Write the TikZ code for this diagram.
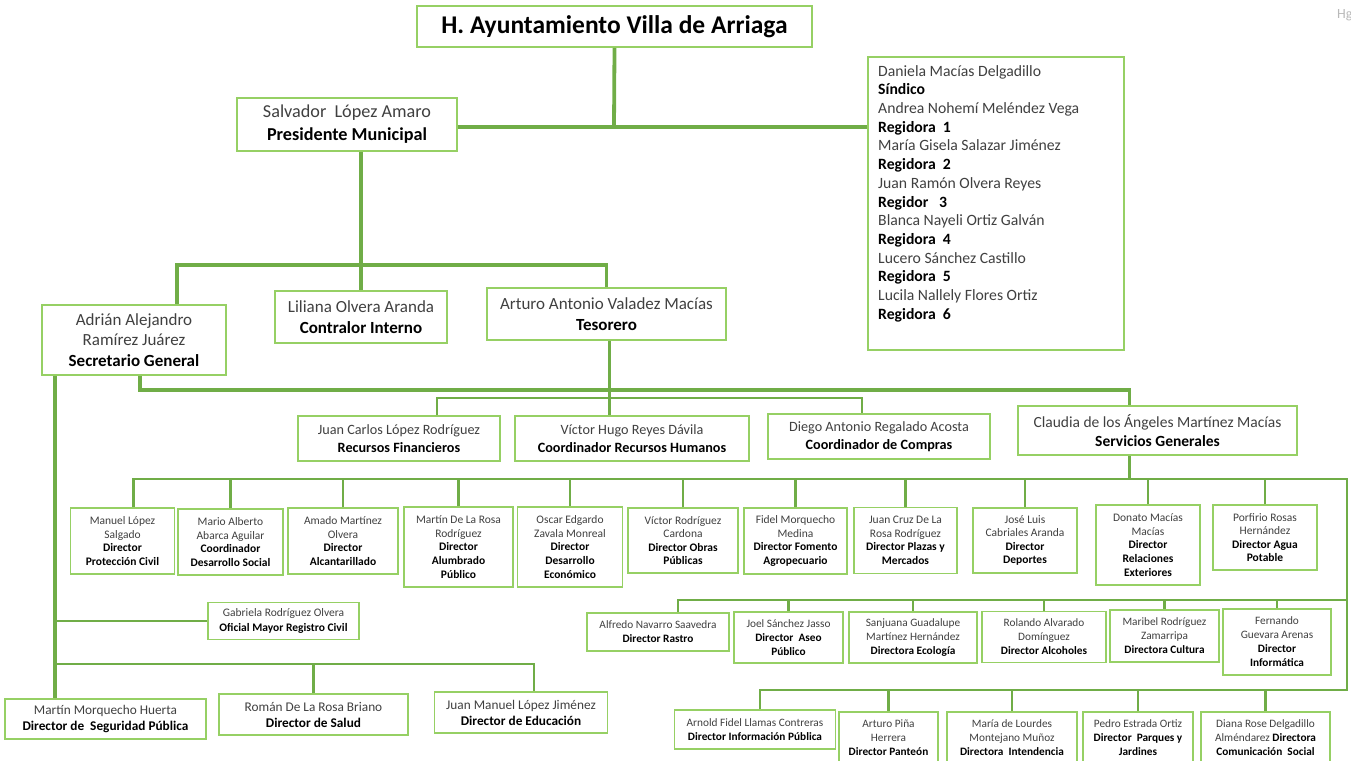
\documentclass[tikz,border=0pt]{standalone}
\usepackage{fontspec}
\setmainfont{Carlito}
\definecolor{linegreen}{RGB}{112,173,71}
\definecolor{boxgreen}{RGB}{150,208,100}
\definecolor{namegray}{RGB}{64,64,64}
\newcommand{\cargo}[1]{\textcolor{black}{\textbf{#1}}}
\tikzset{
  box/.style={draw=boxgreen, line width=1.6pt, fill=white, align=center, text=namegray, inner sep=1pt},
  link/.style={draw=linegreen, line width=3.8pt},
  sublink/.style={draw=linegreen, line width=2.5pt},
  big/.style={font=\fontsize{17}{20.5}\selectfont},
  mid/.style={font=\fontsize{14.2}{18}\selectfont},
  small/.style={font=\fontsize{11.5}{13.6}\selectfont},
  tiny/.style={font=\fontsize{11.3}{14}\selectfont}
}
\begin{document}
\begin{tikzpicture}[x=1pt,y=-1pt]
\useasboundingbox (0,0) rectangle (1351,760);
% top levels
\node[box, minimum width=395pt, minimum height=41pt, text=black, text depth=4pt, font=\fontsize{25.5}{28}\selectfont\bfseries] (title) at (614.5,26.5) {H. Ayuntamiento Villa de Arriaga};
\node[box, minimum width=220pt, minimum height=53pt, font=\fontsize{18.2}{23}\selectfont] (pres) at (347,124.5) {Salvador\ \ López Amaro\\\cargo{Presidente Municipal}};
\node[box, minimum width=256pt, minimum height=293pt] (council) at (996,203.5) {};
\node[anchor=north west, align=left, text=namegray, inner sep=0pt, font=\fontsize{15.7}{18.7}\selectfont] (regidores) at (878,65) {Daniela Macías Delgadillo\\\cargo{Síndico}\\Andrea Nohemí Meléndez Vega\\\cargo{Regidora\ \ 1}\\María Gisela Salazar Jiménez\\\cargo{Regidora\ \ 2}\\Juan Ramón Olvera Reyes\\\cargo{Regidor\ \ \ 3}\\Blanca Nayeli Ortiz Galván\\\cargo{Regidora\ \ 4}\\Lucero Sánchez Castillo\\\cargo{Regidora\ \ 5}\\Lucila Nallely Flores Ortiz\\\cargo{Regidora\ \ 6}};
\node[box, big, minimum width=184pt, minimum height=70pt] (sec) at (134,340) {Adrián Alejandro\\Ramírez Juárez\\\cargo{Secretario General}};
\node[box, big, minimum width=172pt, minimum height=52pt] (contr) at (361,317) {Liliana Olvera Aranda\\\cargo{Contralor Interno}};
\node[box, big, minimum width=239pt, minimum height=52pt] (tes) at (606.5,314) {Arturo Antonio Valadez Macías\\\cargo{Tesorero}};
% tesoreria
\node[box, mid, minimum width=202pt, minimum height=45pt] (jcl) at (399,438.5) {Juan Carlos López Rodríguez\\\cargo{Recursos Financieros}};
\node[box, mid, minimum width=234pt, minimum height=45pt] (vhr) at (632,438.5) {Víctor Hugo Reyes Dávila\\\cargo{Coordinador Recursos Humanos}};
\node[box, mid, minimum width=222pt, minimum height=45pt] (dra) at (879,436.5) {Diego Antonio Regalado Acosta\\\cargo{Coordinador de Compras}};
\node[box, minimum width=279pt, minimum height=49pt, font=\fontsize{15.5}{19}\selectfont] (cdm) at (1157.5,430.5) {Claudia de los Ángeles Martínez Macías\\\cargo{Servicios Generales}};
% directores
\node[box, small, minimum width=104pt, minimum height=66pt] (d1) at (122.5,541) {Manuel López\\Salgado\\\cargo{Director}\\\cargo{Protección Civil}};
\node[box, small, minimum width=105pt, minimum height=66pt] (d2) at (230.5,542) {Mario Alberto\\Abarca Aguilar\\\cargo{Coordinador}\\\cargo{Desarrollo Social}};
\node[box, small, minimum width=110pt, minimum height=66pt] (d3) at (343,541) {Amado Martínez\\Olvera\\\cargo{Director}\\\cargo{Alcantarillado}};
\node[box, small, minimum width=109pt, minimum height=80pt] (d4) at (458.5,547) {Martín De La Rosa\\Rodríguez\\\cargo{Director}\\\cargo{Alumbrado}\\\cargo{Público}};
\node[box, small, minimum width=105pt, minimum height=80pt] (d5) at (570,547) {Oscar Edgardo\\Zavala Monreal\\\cargo{Director}\\\cargo{Desarrollo}\\\cargo{Económico}};
\node[box, small, minimum width=110pt, minimum height=65pt] (d6) at (683,540.5) {Víctor Rodríguez\\Cardona\\\cargo{Director Obras}\\\cargo{Públicas}};
\node[box, small, minimum width=103pt, minimum height=66pt] (d7) at (795.5,541) {Fidel Morquecho\\Medina\\\cargo{Director Fomento}\\\cargo{Agropecuario}};
\node[box, small, minimum width=103pt, minimum height=66pt] (d8) at (905.5,540.5) {Juan Cruz De La\\Rosa Rodríguez\\\cargo{Director Plazas y}\\\cargo{Mercados}};
\node[box, small, minimum width=104pt, minimum height=65pt] (d9) at (1025,540.5) {José Luis\\Cabriales Aranda\\\cargo{Director}\\\cargo{Deportes}};
\node[box, small, minimum width=104pt, minimum height=80pt] (d10) at (1148,545) {Donato Macías\\Macías\\\cargo{Director}\\\cargo{Relaciones}\\\cargo{Exteriores}};
\node[box, small, minimum width=104pt, minimum height=65pt] (d11) at (1265,537.5) {Porfirio Rosas\\Hernández\\\cargo{Director Agua}\\\cargo{Potable}};
% servicios generales
\node[box, tiny, minimum width=142pt, minimum height=38pt] (e1) at (658,632) {Alfredo Navarro Saavedra\\\cargo{Director Rastro}};
\node[box, tiny, minimum width=109pt, minimum height=51pt] (e2) at (788.5,637.5) {Joel Sánchez Jasso\\\cargo{Director\ \ Aseo}\\\cargo{Público}};
\node[box, tiny, minimum width=128pt, minimum height=51pt] (e3) at (913,637.5) {Sanjuana Guadalupe\\Martínez Hernández\\\cargo{Directora Ecología}};
\node[box, tiny, minimum width=124pt, minimum height=51pt] (e4) at (1044,637) {Rolando Alvarado\\Domínguez\\\cargo{Director Alcoholes}};
\node[box, tiny, minimum width=109pt, minimum height=52pt] (e5) at (1164.5,636) {Maribel Rodríguez\\Zamarripa\\\cargo{Directora Cultura}};
\node[box, tiny, minimum width=108pt, minimum height=66pt] (e6) at (1277,642) {Fernando\\Guevara Arenas\\\cargo{Director}\\\cargo{Informática}};
\node[box, tiny, minimum width=161pt, minimum height=39pt] (f1) at (755,729.5) {Arnold Fidel Llamas Contreras\\\cargo{Director Información Pública}};
\node[box, tiny, minimum width=99pt, minimum height=52pt] (f2) at (888.5,738) {Arturo Piña\\Herrera\\\cargo{Director Panteón}};
\node[box, tiny, minimum width=130pt, minimum height=52pt] (f3) at (1012,738) {María de Lourdes\\Montejano Muñoz\\\cargo{Directora\ \ Intendencia}};
\node[box, tiny, minimum width=110pt, minimum height=52pt] (f4) at (1138,738) {Pedro Estrada Ortiz\\\cargo{Director\ \ Parques y}\\\cargo{Jardines}};
\node[box, tiny, minimum width=129pt, minimum height=52pt] (f5) at (1265.5,738) {Diana Rose Delgadillo\\Alméndarez \cargo{Directora}\\\cargo{Comunicación\ \ Social}};
% secretaria
\node[box, minimum width=151pt, minimum height=37pt, font=\fontsize{11.5}{15}\selectfont] (gab) at (283.5,621) {Gabriela Rodríguez Olvera\\\cargo{Oficial Mayor Registro Civil}};
\node[box, minimum width=201pt, minimum height=40pt, font=\fontsize{13.3}{16}\selectfont] (mmh) at (105.5,719) {Martín Morquecho Huerta\\\cargo{Director de\ \ Seguridad Pública}};
\node[box, minimum width=189pt, minimum height=41pt, font=\fontsize{13.3}{16}\selectfont] (rdb) at (313.5,714.5) {Román De La Rosa Briano\\\cargo{Director de Salud}};
\node[box, minimum width=173pt, minimum height=41pt, font=\fontsize{13.3}{16}\selectfont] (jml) at (521,712.5) {Juan Manuel López Jiménez\\\cargo{Director de Educación}};
\node[anchor=west, text=gray!55, inner sep=0pt, font=\fontsize{14}{14}\selectfont] (hg) at (1337,15) {Hg};
% connectors
\coordinate (cj) at (614,127);
\coordinate (sj) at (362,265);
\coordinate (tb) at (610,390);
\coordinate (fb) at (610,398);
\coordinate (sl) at ([xshift=-79pt]sec.south);
\coordinate (sb) at (55,664);
\coordinate (re) at (1347,479);
\coordinate (r2) at (1347,600);
\coordinate (r3) at (1347,690);
\draw[link] (title.south) -- (cj);
\draw[link] (pres.east |- cj) -- (council.west |- cj);
\draw[link] (pres.south -| contr.north) -- (contr.north);
\draw[link] ([xshift=43pt]sec.north) |- (sj) -| (tes.north);
\draw[link] (sl) -- (sl |- mmh.north);
\draw[sublink] (gab.west) -- (gab.west -| sl);
\draw[sublink] (sb) -| (rdb.north) (rdb.north |- sb) -| ([xshift=13pt]jml.north);
\draw[link] ([xshift=6pt]sec.south) |- (tb) -| ([xshift=-28pt]cdm.north);
\draw[link] ([xshift=3pt]tes.south) -- ([xshift=3pt]tes.south |- vhr.north);
\draw[sublink] ([xshift=38pt]jcl.north) |- (fb) -| ([xshift=-17pt]dra.north);
\draw[link] ([xshift=-28pt]cdm.south) -- ([xshift=-28pt]cdm.south |- re);
\draw[sublink] ([xshift=11pt]d1.north) |- (re) -- (r3) -| ([xshift=5pt]f1.north);
\draw[sublink] (r2) -| ([xshift=20pt]e1.north);
\foreach \n in {d2,d3,d4,d5,d6,d7,d8,d9,d10,d11}
  \draw[sublink] (\n.north) -- (\n.north |- re);
\foreach \n in {e2,e3,e4,e5,e6}
  \draw[sublink] (\n.north) -- (\n.north |- r2);
\foreach \n in {f2,f3,f4,f5}
  \draw[sublink] (\n.north) -- (\n.north |- r3);
\end{tikzpicture}
\end{document}
